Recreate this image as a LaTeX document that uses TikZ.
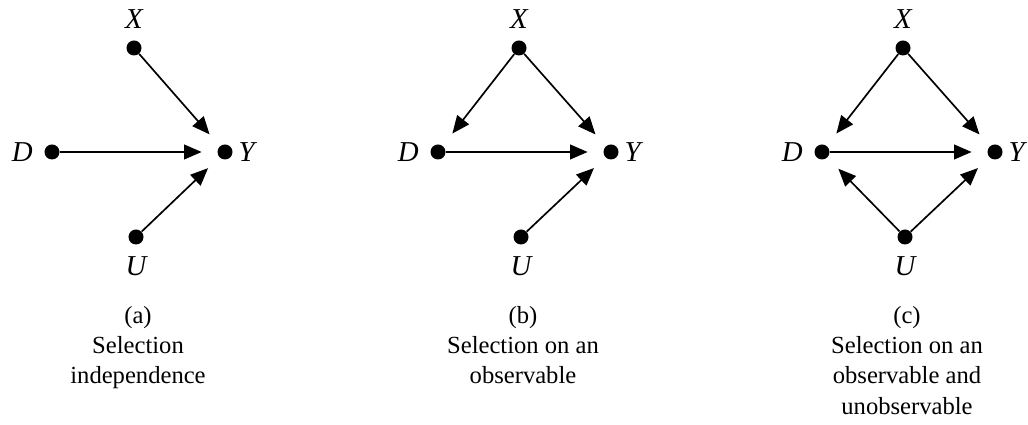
\documentclass[tikz,border=0pt]{standalone}
\usepackage{fontspec}
\setmainfont{Liberation Serif}
\usetikzlibrary{arrows.meta,positioning}
\tikzset{
  dot/.style={
    circle,
    fill=black,
    inner sep=0pt,
    minimum size=3.75mm
  },
  varlabel/.style={font=\fontsize{20.5}{24}\selectfont\itshape,inner sep=0pt},
  arrow/.style={-{Triangle[length=4.4mm,width=3.7mm]},draw=black,line width=1.2pt,shorten >=3.9mm},
  caption/.style={
    align=center,
    font=\fontsize{17.5}{21.5}\selectfont,
    inner sep=0pt,
    anchor=north
  }
}

\begin{document}
\begin{tikzpicture}[x=0.025cm,y=0.025cm]
  \useasboundingbox (0,0) rectangle (1028,425);

  % (a) selection independence
  \node[dot] (xa) at (134,377) {};
  \node[dot] (da) at (52,273) {};
  \node[dot] (ya) at (225,273) {};
  \node[dot] (ua) at (136,188) {};
  \node[varlabel,above=2.9mm of xa] (lxa) {X};
  \node[varlabel,left=2.8mm of da] (lda) {D};
  \node[varlabel,right=1.4mm of ya] (lya) {Y};
  \node[varlabel,below=2.9mm of ua] (lua) {U};
  \draw[arrow] (xa) -- (ya);
  \draw[arrow] (da) -- (ya);
  \draw[arrow] (ua) -- (ya);
  \node[caption] (capa) at (138,119) {(a)\\Selection\\independence};

  % (b) selection on an observable
  \node[dot] (xb) at (519,377) {};
  \node[dot] (db) at (438,273) {};
  \node[dot] (yb) at (611,273) {};
  \node[dot] (ub) at (521,188) {};
  \node[varlabel,above=2.9mm of xb] (lxb) {X};
  \node[varlabel,left=2.8mm of db] (ldb) {D};
  \node[varlabel,right=1.4mm of yb] (lyb) {Y};
  \node[varlabel,below=2.9mm of ub] (lub) {U};
  \draw[arrow] (xb) -- (yb);
  \draw[arrow] (xb) -- (db);
  \draw[arrow] (db) -- (yb);
  \draw[arrow] (ub) -- (yb);
  \node[caption] (capb) at (523,119) {(b)\\Selection on an\\observable};

  % (c) selection on an observable and unobservable
  \node[dot] (xc) at (903,377) {};
  \node[dot] (dc) at (822,273) {};
  \node[dot] (yc) at (995,273) {};
  \node[dot] (uc) at (905,188) {};
  \node[varlabel,above=2.9mm of xc] (lxc) {X};
  \node[varlabel,left=2.8mm of dc] (ldc) {D};
  \node[varlabel,right=1.4mm of yc] (lyc) {Y};
  \node[varlabel,below=2.9mm of uc] (luc) {U};
  \draw[arrow] (xc) -- (yc);
  \draw[arrow] (xc) -- (dc);
  \draw[arrow] (dc) -- (yc);
  \draw[arrow] (uc) -- (yc);
  \draw[arrow] (uc) -- (dc);
  \node[caption] (capc) at (907,119) {(c)\\Selection on an\\observable and\\unobservable};
\end{tikzpicture}
\end{document}
